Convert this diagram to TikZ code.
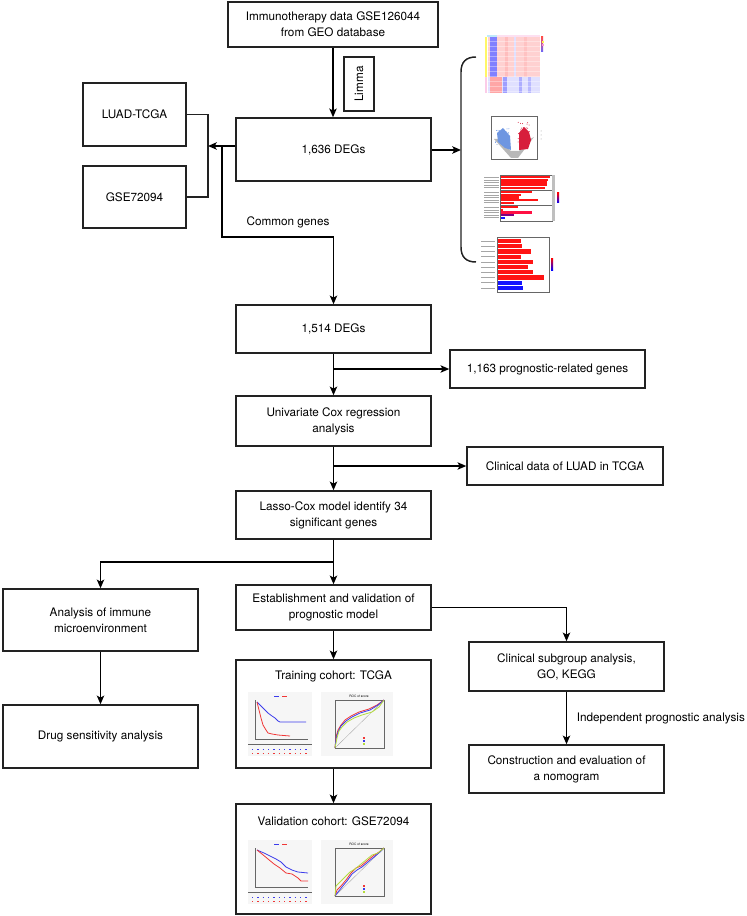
\documentclass[tikz,border=0pt]{standalone}
\usepackage{fontspec}
\setmainfont{TeX Gyre Heros}
\usetikzlibrary{arrows.meta}

\definecolor{lineGray}{RGB}{34,34,34}
\definecolor{thumbBg}{RGB}{246,246,246}
\definecolor{kmBlue}{RGB}{60,60,235}
\definecolor{kmRed}{RGB}{240,55,55}
\definecolor{rocGreen}{RGB}{180,220,60}
\definecolor{barRed}{RGB}{255,20,20}
\definecolor{barBlue}{RGB}{20,20,255}
\definecolor{volBlue}{RGB}{110,150,225}
\definecolor{volRed}{RGB}{215,30,60}

\newcommand\boxfont{\fontsize{8.8}{12}\selectfont}
\newcommand\tinyfont{\fontsize{2.4}{3}\selectfont}

\tikzset{every picture/.style={line width=0.75pt}}
\tikzset{
  box/.style={draw=lineGray, line width=1.1pt, inner sep=0.75pt, align=center, font=\boxfont},
  lbl/.style={inner sep=0.75pt, font=\boxfont},
  arr/.style={draw=black, line width=1.1pt, -{Stealth[length=6.5pt,width=5.5pt,inset=1.5pt]}},
  ln/.style={draw=lineGray, line width=1.1pt},
  thumb/.style={fill=thumbBg},
  axisln/.style={draw=black!60, line width=0.2pt},
  curve/.style={line width=0.6pt},
}

\begin{document}
\begin{tikzpicture}[x=0.75pt,y=0.75pt,yscale=-1,xscale=1]
\path[use as bounding box] (0,0) rectangle (746,916);

% Text Node
\node[box, minimum width=157.5pt, minimum height=33.75pt] (geo) at (333,24.5) {Immunotherapy data GSE126044\\from GEO database};
% Text Node
\node[box, rotate=90, minimum width=40.5pt, minimum height=22.5pt] (limma) at (359,84) {Limma};
% Text Node
\node[box, minimum width=146.25pt, minimum height=47.25pt] (deg1636) at (333.5,149.5) {1,636 DEGs};
% Text Node
\node[box, minimum width=77.25pt, minimum height=47.25pt] (luad) at (134.5,114.5) {LUAD-TCGA};
% Text Node
\node[box, minimum width=77.25pt, minimum height=46.5pt] (gse) at (134.5,197) {GSE72094};
% Text Node
\node[box, minimum width=146.25pt, minimum height=36pt] (deg1514) at (333.5,329) {1,514 DEGs};
% Text Node
\node[box, minimum width=146.25pt, minimum height=28.5pt] (prog) at (547.5,369) {1,163 prognostic-related genes};
% Text Node
\node[box, minimum width=146.25pt, minimum height=37.5pt] (unicox) at (333.5,421) {Univariate Cox regression\\analysis};
% Text Node
\node[box, minimum width=147pt, minimum height=28.5pt] (clin) at (565,466) {Clinical data of LUAD in TCGA};
% Text Node
\node[box, minimum width=146.25pt, minimum height=36pt] (lasso) at (333.5,515) {Lasso-Cox model identify 34\\significant genes};
% Text Node
\node[box, minimum width=146.25pt, minimum height=33.75pt] (estab) at (333.5,607.5) {Establishment and validation of\\prognostic model};
% Text Node
\node[box, minimum width=146.25pt, minimum height=46.5pt] (immune) at (100.5,620) {Analysis of immune\\microenvironment};
% Text Node
\node[box, minimum width=146.25pt, minimum height=47.25pt] (drug) at (100.5,736.5) {Drug sensitivity analysis};
% Text Node
\node[box, minimum width=146.25pt, minimum height=81pt] (train) at (333.5,714) {};
\node[lbl] (traintitle) at (333.5,676) {Training cohort: TCGA};
% Text Node
\node[box, minimum width=146.25pt, minimum height=82.5pt] (valid) at (333.5,859) {};
\node[lbl] (validtitle) at (333.5,821) {Validation cohort: GSE72094};
% Text Node
\node[box, minimum width=146.25pt, minimum height=36.75pt] (subgrp) at (566.5,666.5) {Clinical subgroup analysis,\\GO, KEGG};
% Text Node
\node[box, minimum width=146.25pt, minimum height=36pt] (nomo) at (566.5,769) {Construction and evaluation of\\a nomogram};

%Straight Lines
\draw[arr] (geo.south) -- (geo.south |- deg1636.north);
%Straight Lines
\coordinate (mrg) at (208,146);
\draw[ln] (luad.east) -| (mrg) |- (gse.east);
\draw[arr] (deg1636.west |- mrg) -- (mrg);
%Straight Lines
\coordinate (cg) at (222,146);
\coordinate (cgturn) at (222,237);
\draw[arr] (cg) -- (cgturn) -| (deg1514.north);
\node[lbl] (cglabel) at (288,222) {Common genes};
%Straight Lines
\coordinate (brc) at (461,150);
\draw[arr] (deg1636.east |- brc) -- (brc);
\draw[ln] (476,57) .. controls (466,57) and (461,62) .. (461,72) -- (461,247) .. controls (461,257) and (466,262) .. (476,262);
%Straight Lines
\draw[arr] (deg1514) -- (unicox);
\draw[arr] (deg1514.south |- prog.west) -- (prog.west);
%Straight Lines
\draw[arr] (unicox) -- (lasso);
\draw[arr] (unicox.south |- clin.west) -- (clin.west);
%Straight Lines
\draw[arr] (lasso) -- (estab);
\coordinate (split) at (333.5,562);
\draw[arr] (split) -| (immune.north);
\draw[arr] (immune) -- (drug);
%Straight Lines
\draw[arr] (estab.east) -| (subgrp.north);
\draw[arr] (estab) -- (train);
\draw[arr] (train) -- (valid);
\draw[arr] (subgrp) -- (nomo) node[pos=0.5, anchor=west, xshift=6.5pt, lbl] (indep) {Independent prognostic analysis};

%Heat map
\fill[red!18] (488,37) rectangle (540,77);
\fill[blue!50] (490,37) rectangle (497,77);
\fill[red!26] (505,37) rectangle (508,77);
\fill[blue!12] (514,37) rectangle (516,77);
\fill[red!24] (524,37) rectangle (527,77);
\fill[blue!12] (488,77) rectangle (540,93);
\fill[red!35] (490,77) rectangle (502,93);
\fill[blue!38] (503,77) rectangle (507,93);
\fill[blue!32] (519,77) rectangle (522,93);
\fill[blue!28] (528,77) rectangle (531,93);
\foreach \r in {41,46,...,91} {\draw[white, opacity=0.35, line width=0.3pt] (488,\r) -- (540,\r);}
\fill[yellow!60] (485,37) rectangle (487,77);
\fill[magenta!20] (485,77) rectangle (487,93);
\fill[cyan!25] (487,35) rectangle (497,37);
\fill[magenta!12] (497,35) rectangle (540,37);
\shade[top color=red!70, bottom color=blue!60] (541,37) rectangle (543,52);
\fill[yellow!70] (542,41) rectangle (544,43);
\fill[magenta!40] (542,44) rectangle (544,46);

%Volcano plot
\draw[axisln] (491,116) rectangle (537,159);
\fill[black!28] (494,139) -- (511,158) -- (518,158) -- (534,137) -- (530,139) -- (519,151) -- (515,153) -- (511,151) -- (498,139) -- cycle;
\fill[black!28] (511,151) -- (515,158) -- (519,151) -- cycle;
\fill[volBlue] (497,133) -- (503,128) -- (510,136) -- (511,150) -- (505,148) -- (498,142) -- cycle;
\fill[volRed] (519,150) -- (519,133) -- (524,127) -- (529,132) -- (531,140) -- (528,149) -- cycle;
\pgfmathsetseed{11}
\foreach \i in {1,...,30} {
  \fill[volBlue] ({495+14*rnd},{128+18*rnd}) circle (0.5);
  \fill[volRed] ({518+14*rnd},{122+24*rnd}) circle (0.5);
}
\fill[black!40] (541,131) circle (0.5) (541,135) circle (0.5) (541,139) circle (0.5);

%GO bar chart
\draw[axisln] (500,175) rectangle (552,221);
\draw[axisln] (500,190) -- (552,190) (500,205) -- (552,205);
\fill[black!25] (552,175) rectangle (555,221);
\foreach \y/\e/\c in {177.3/550/barRed, 179.9/548/barRed, 182.5/547/barRed, 185.1/547/barRed, 187.7/545/barRed,
  192.3/532/barRed, 194.9/521/barRed, 197.5/519/barRed, 200.1/538/barRed, 202.7/514/barRed,
  207.3/518/barRed, 209.9/503/barRed, 212.5/532/barRed!80!magenta, 215.1/514/violet, 217.7/505/barBlue} {
  \fill[\c] (501,\y-1.1) rectangle (\e,\y+1.1);
  \draw[black!35, line width=0.4pt] (484,\y) -- (499,\y);
}
\shade[top color=red, bottom color=blue] (557,193) rectangle (559,203);

%KEGG bar chart
\draw[axisln] (497,237) rectangle (549,292);
\foreach \i/\e/\c in {0/521/barRed, 1/522/barRed, 2/531/barRed, 3/521/barRed, 4/533/barRed,
  5/528/barRed, 6/533/barRed, 7/544/barRed, 8/522/barBlue, 9/523/barBlue} {
  \fill[\c] (498,{239+5.2*\i}) rectangle (\e,{243.2+5.2*\i});
  \draw[black!35, line width=0.4pt] (481,{241+5.2*\i}) -- (495,{241+5.2*\i});
}
\shade[top color=red, bottom color=blue] (551,258) rectangle (553,270);

%KM training
\begin{scope}[shift={(248,692)}]
\fill[thumb] (0,0) rectangle (64,64);
\draw[kmBlue, line width=0.4pt] (26,4) -- (31,4);
\draw[kmRed, line width=0.4pt] (34,4) -- (39,4);
\draw[axisln] (7,8) -- (7,47) -- (60,47);
\draw[kmBlue, curve] (9,10) -- (12,13) -- (16,17) -- (20,21) -- (24,24) -- (27,26) -- (30,29) -- (32,30) -- (58,30);
\draw[kmRed, curve] (9,10) -- (11,18) -- (13,26) -- (15,33) -- (18,38) -- (20,41) -- (24,42) -- (30,43) -- (42,44);
\draw[axisln] (0,52) -- (64,52);
\draw[kmBlue, dash pattern=on 1pt off 3pt, line width=0.4pt] (4,57) -- (62,57);
\draw[kmRed, dash pattern=on 1pt off 3pt, line width=0.4pt] (4,61) -- (62,61);
\end{scope}

%ROC training
\begin{scope}[shift={(321,692)}]
\fill[thumb] (0,0) rectangle (72,64);
\node[font=\tinyfont, inner sep=0pt] (roc1title) at (38,4) {ROC of score};
\draw[axisln] (14,8) rectangle (63,56);
\draw[black!40, line width=0.2pt] (14,56) -- (63,8);
\draw[kmRed, curve] (14,56) -- (15,45) -- (17,38) -- (20,33) -- (24,28) -- (30,24) -- (38,20) -- (48,17) -- (56,13) -- (63,8);
\draw[kmBlue, curve] (14,56) -- (15,47) -- (17,40) -- (20,34) -- (25,29) -- (31,25) -- (39,21) -- (49,18) -- (57,13) -- (63,8);
\draw[rocGreen, curve] (14,56) -- (16,46) -- (18,39) -- (21,35) -- (26,30) -- (33,26) -- (41,23) -- (51,20) -- (58,15) -- (63,8);
\fill[kmRed] (42,45) rectangle (44,47);
\fill[kmBlue] (42,48) rectangle (44,50);
\fill[rocGreen] (42,51) rectangle (44,53);
\end{scope}

%KM validation
\begin{scope}[shift={(248,840)}]
\fill[thumb] (0,0) rectangle (64,64);
\draw[kmBlue, line width=0.4pt] (26,4) -- (31,4);
\draw[kmRed, line width=0.4pt] (34,4) -- (39,4);
\draw[axisln] (7,8) -- (7,47) -- (60,47);
\draw[kmBlue, curve] (9,10) -- (16,13) -- (22,16) -- (28,19) -- (33,22) -- (38,27) -- (44,30) -- (50,32) -- (60,33);
\draw[kmRed, curve] (9,10) -- (14,14) -- (20,19) -- (26,24) -- (32,28) -- (38,33) -- (44,34) -- (50,38) -- (53,41) -- (60,41);
\draw[axisln] (0,52) -- (64,52);
\draw[kmBlue, dash pattern=on 1pt off 3pt, line width=0.4pt] (4,57) -- (62,57);
\draw[kmRed, dash pattern=on 1pt off 3pt, line width=0.4pt] (4,61) -- (62,61);
\end{scope}

%ROC validation
\begin{scope}[shift={(321,840)}]
\fill[thumb] (0,0) rectangle (72,64);
\node[font=\tinyfont, inner sep=0pt] (roc2title) at (38,4) {ROC of score};
\draw[axisln] (14,8) rectangle (63,56);
\draw[black!40, line width=0.2pt] (14,56) -- (63,8);
\draw[kmRed, curve] (14,56) -- (16,50) -- (20,46) -- (25,40) -- (30,33) -- (35,28) -- (40,26) -- (46,21) -- (52,16) -- (58,12) -- (63,8);
\draw[kmBlue, curve] (14,56) -- (17,52) -- (21,47) -- (26,41) -- (31,34) -- (36,30) -- (41,27) -- (47,22) -- (53,17) -- (59,12) -- (63,8);
\draw[rocGreen, curve] (14,56) -- (15,46) -- (19,42) -- (24,37) -- (29,32) -- (34,29) -- (40,24) -- (45,20) -- (51,15) -- (57,13) -- (63,8);
\fill[kmRed] (42,45) rectangle (44,47);
\fill[kmBlue] (42,48) rectangle (44,50);
\fill[rocGreen] (42,51) rectangle (44,53);
\end{scope}

\end{tikzpicture}
\end{document}
